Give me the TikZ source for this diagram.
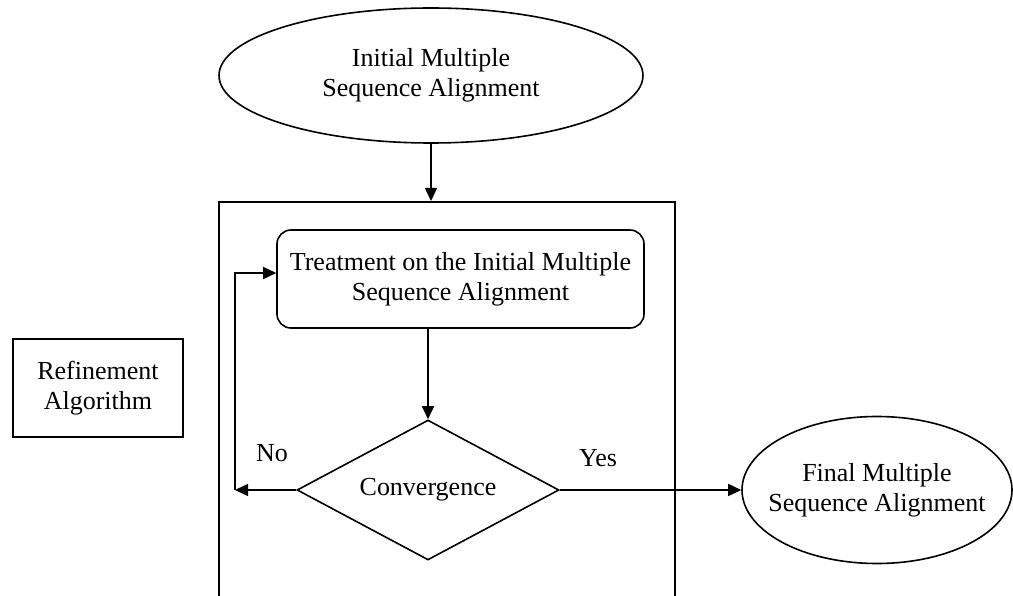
\documentclass[tikz,border=0pt]{standalone}
\usepackage{fontspec}
\setmainfont{Liberation Serif}
\usetikzlibrary{shapes.geometric,arrows.meta}

\begin{document}
\begin{tikzpicture}[x=1pt, y=-1pt, line width=1.6pt,
	font=\fontsize{26}{30}\selectfont,
	>={Triangle[length=13pt,width=12pt]},
	oval/.style = {draw, ellipse, inner sep=0pt, align=center},
	box/.style = {draw, rectangle, inner sep=0pt, align=center},
	decision/.style = {draw, diamond, aspect=2, inner sep=0pt}]
	\useasboundingbox (0,0) rectangle (1013,596);
	\node[box, line width=2pt, minimum width=456pt, minimum height=440pt] (frame) at (447,422) {};
	\node[oval, minimum width=424pt, minimum height=135pt] (init) at (431,75.5) {Initial Multiple\\Sequence Alignment};
	\node[box, rounded corners=14pt, minimum width=367pt, minimum height=98pt] (treat) at (460.5,279) {Treatment on the Initial Multiple\\Sequence Alignment};
	\node[decision, minimum width=262pt, minimum height=140pt] (conv) at (428,490) {Convergence};
	\node[oval, inner xsep=-15pt, minimum width=270pt, minimum height=147pt] (final) at (877,490) {Final Multiple\\Sequence Alignment};
	\node[box, line width=2pt, minimum width=170pt, minimum height=98pt] (refine) at (98,388) {Refinement\\Algorithm};
	\node (no) at (272,453) {No};
	\node (yes) at (598,458) {Yes};
	\coordinate (loop) at (235,490);
	\draw[->] (init) -- (init |- frame.north);
	\draw[->] (treat.south -| conv.north) -- (conv.north);
	\draw[->] (conv) -- (loop);
	\draw[->] (loop) |- ([yshift=6pt]treat.west);
	\draw[->] (conv) -- (final);
\end{tikzpicture}
\end{document}
